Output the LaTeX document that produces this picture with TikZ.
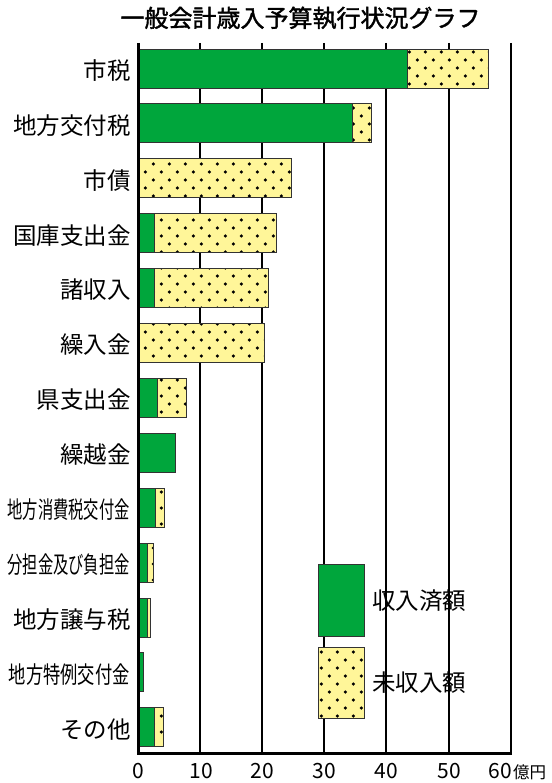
\documentclass[tikz,border=0pt]{standalone}
\usepackage{fontspec}
\usepackage{graphicx}
\newfontfamily\jp{Noto Sans CJK JP}
\newfontfamily\jpt[FakeBold=1.6]{Noto Sans CJK JP}
\definecolor{bargreen}{RGB}{0,166,60}
\definecolor{dotyellow}{RGB}{255,246,153}
\tikzset{
  outl/.style={draw=black!80, line width=0.9pt},
  gridln/.style={line width=2pt, black},
  axisln/.style={line width=3pt, black, line join=miter},
  cat/.style={anchor=east, font=\jp\fontsize{23.5}{24}\selectfont, inner sep=0pt},
  legendtxt/.style={anchor=west, font=\jp\fontsize{23.5}{24}\selectfont, inner sep=0pt},
  ticklbl/.style={anchor=base, font=\jp\fontsize{21}{22}\selectfont, inner sep=0pt},
  unitlbl/.style={anchor=base west, font=\jp\fontsize{16.5}{17}\selectfont, inner sep=0pt},
  titletxt/.style={font=\jpt\fontsize{24}{26}\selectfont, inner sep=0pt},
}
% dotted (uncollected) area: x1 y1 x2 y2 (pixels, y downward)
\newcommand\dotrect[4]{%
  \begin{scope}
    \clip (#1,#2) rectangle (#3,#4);
    \fill[dotyellow] (#1,#2) rectangle (#3,#4);
    \pgfmathtruncatemacro\myja{floor((#2)/8)}
    \pgfmathtruncatemacro\myjb{ceil((#4)/8)}
    \pgfmathtruncatemacro\myka{floor((#1)/16)-1}
    \pgfmathtruncatemacro\mykb{ceil((#3)/16)}
    \foreach \j in {\myja,...,\myjb}{
      \foreach \k in {\myka,...,\mykb}{
        \pgfmathsetmacro\myxx{1.3+16*\k+8*(1-mod(\j,2))}
        \fill[black] (\myxx,4+8*\j) circle (1.75pt);
      }}
  \end{scope}
  \draw[outl] (#1,#2) rectangle (#3,#4);
}
\newcommand\dbar[3]{\dotrect{#2}{#1-19.5}{#3}{#1+19.5}}
\newcommand\gbar[3]{%
  \fill[bargreen] (#2,#1-19.5) rectangle (#3,#1+19.5);
  \draw[outl] (#2,#1-19.5) rectangle (#3,#1+19.5);}
\begin{document}
\begin{tikzpicture}[x=1pt,y=-1pt]
\useasboundingbox (0,0) rectangle (551,783);
\fill[white] (0,0) rectangle (551,783);

\node[titletxt] (title) at (300.5,18) {一般会計歳入予算執行状況グラフ};

% grid lines
\foreach \gx in {200,262,324,386,449,511}{
  \draw[gridln] (\gx,43) -- (\gx,753);
}

% bars
\gbar{68.5}{138}{407}\dbar{68.5}{407}{488}
\gbar{123.4}{138}{352}\dbar{123.4}{352}{371}
\dbar{178.3}{138}{291}
\gbar{233.2}{138}{154}\dbar{233.2}{154}{276}
\gbar{288.1}{138}{154}\dbar{288.1}{154}{268}
\dbar{343.0}{138}{264}
\gbar{397.9}{138}{157}\dbar{397.9}{157}{186}
\gbar{452.8}{138}{175}
\gbar{507.7}{138}{155}\dbar{507.7}{155}{164}
\gbar{562.6}{138}{147}\dbar{562.6}{147}{153}
\gbar{617.5}{138}{147}\dbar{617.5}{147}{150}
\gbar{672.4}{139}{143}
\gbar{727.3}{138}{154}\dbar{727.3}{154}{163}

% category labels
\node[cat] (c1) at (131,70.5) {市税};
\node[cat] (c2) at (131,125.4) {地方交付税};
\node[cat] (c3) at (131,180.3) {市債};
\node[cat] (c4) at (131,235.2) {国庫支出金};
\node[cat] (c5) at (131,290.1) {諸収入};
\node[cat] (c6) at (131,345.0) {繰入金};
\node[cat] (c7) at (131,399.9) {県支出金};
\node[cat] (c8) at (131,454.8) {繰越金};
\node[cat] (c9) at (130,509.7) {\scalebox{0.65}[1]{地方消費税交付金}};
\node[cat] (c10) at (130,564.6) {\scalebox{0.65}[1]{分担金及び負担金}};
\node[cat] (c11) at (131,619.5) {地方譲与税};
\node[cat] (c12) at (130,674.4) {\scalebox{0.735}[1]{地方特例交付金}};
\node[cat] (c13) at (131,729.3) {その他};

% legend
\fill[bargreen] (318,564) rectangle (364,636);
\draw[outl] (318,564) rectangle (364,636);
\dotrect{318}{647}{364}{718}
\node[legendtxt] (l1) at (372,601) {収入済額};
\node[legendtxt] (l2) at (372,683) {未収入額};

% axes
\draw[axisln] (138,43) -- (138,753) -- (512,753);

% tick labels
\node[ticklbl] (t0) at (138,778) {0};
\node[ticklbl] (t10) at (201,778) {10};
\node[ticklbl] (t20) at (262,778) {20};
\node[ticklbl] (t30) at (324,778) {30};
\node[ticklbl] (t40) at (386,778) {40};
\node[ticklbl] (t50) at (449,778) {50};
\node[ticklbl, anchor=base east] (t60) at (512,778) {60};
\node[unitlbl] (unit) at (513,778) {億円};
\end{tikzpicture}
\end{document}
